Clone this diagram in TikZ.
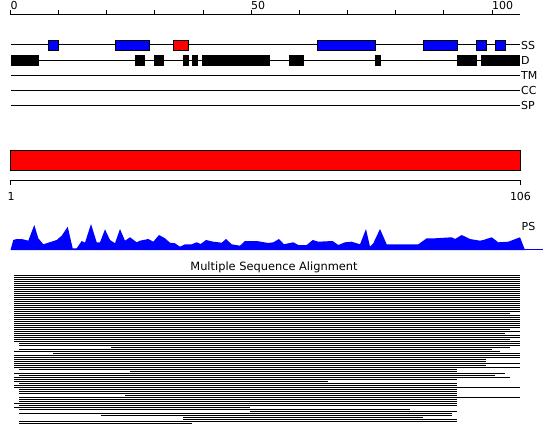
\documentclass[tikz,border=0pt]{standalone}
\usepackage{fontspec}
\setmainfont{DejaVu Sans}
\definecolor{ssblue}{RGB}{0,0,255}
\definecolor{ssred}{RGB}{255,0,0}

\begin{document}
\begin{tikzpicture}[
    x=1pt, y=-1pt,
    font=\fontsize{11}{13}\selectfont,
    % Track styles: one line per feature, boxes sit on it.
    track/.style={draw=black, line width=1pt},
    helix/.style={draw=black, line width=1pt, fill=ssblue},
    strand/.style={draw=black, line width=1pt, fill=ssred},
    disorder/.style={fill=black},
    tracklabel/.style={anchor=base west, inner sep=0pt},
    seqline/.style={draw=black, line width=1pt}
]
    \useasboundingbox (0,0) rectangle (550,445);

    % Residue ruler, 10 residues per tick
    \draw[track] (10.5,14.7) -- (520,14.7);
    \foreach \k in {0,...,10} {
        \draw[track] (10.5+48.15*\k,14.7) -- ++(0,-4.5);
    }
    \node[tracklabel] (tick0) at (10.5,9.5) {0};
    \node[tracklabel] (tick50) at (251,9.5) {50};
    \node[tracklabel] (tick100) at (492,9.5) {100};

    % Feature tracks
    \foreach \y/\name/\txt in {44.5/ss/SS, 60.3/d/D, 75.3/tm/TM, 90.3/cc/CC, 105.3/sp/SP} {
        \draw[track] (10.5,\y) -- (520,\y);
        \node[tracklabel] (\name label) at (521,\y+4.5) {\txt};
    }

    % Secondary structure
    \foreach \a/\b in {48.3/58.7, 115.3/149.7, 317.3/375.7, 423.3/457.7, 476.3/486.7, 495.3/505.7} {
        \draw[helix] (\a,40) rectangle (\b,50.3);
    }
    \draw[strand] (173.3,40) rectangle (188.7,50.3);

    % Disorder
    \foreach \a/\b in {10.5/39, 135/144.7, 154/164, 183/189, 192/198, 202/269.7,
                       289/304, 375/381, 457/476.7, 481/519.7} {
        \fill[disorder] (\a,55) rectangle (\b,65.7);
    }

    % Domain bar and its ruler
    \draw[strand] (10.7,150) rectangle (520.7,170.7);
    \draw[track] (10.7,185) -- (10.7,180.7) -- (520.7,180.7) -- (520.7,185);
    \node[anchor=base, inner sep=0pt] (first) at (11,200) {1};
    \node[anchor=base, inner sep=0pt] (last) at (520.5,200) {106};

    % Profile score
    \fill[ssblue] (10.5,250) -- (13.3,240) -- (16.7,239) -- (21.7,239) -- (28.3,240.7)
        -- (34.3,225) -- (38.3,238.3) -- (43.3,244.3) -- (48.3,242.7) -- (56.7,240)
        -- (61.7,235.7) -- (67.7,226.7) -- (72.7,248.3) -- (76.7,248.3) -- (81.7,241)
        -- (85,242.7) -- (91,224) -- (96.7,242.3) -- (100,242.3) -- (105,229.3)
        -- (110,240) -- (115,243.3) -- (120,229) -- (125,240.7) -- (130,237.3)
        -- (136.7,242.3) -- (140,240.7) -- (148.3,239) -- (153.3,241.7) -- (159,235)
        -- (165,238.3) -- (170,242.7) -- (175,243.3) -- (180,246.7) -- (185,244.3)
        -- (191.7,244.3) -- (196.7,242.3) -- (200.7,244) -- (206,240) -- (213.3,241.7)
        -- (221.7,242.7) -- (226,239) -- (231.7,244.3) -- (240,245.7) -- (245,241)
        -- (256.7,241) -- (268.3,243) -- (273.3,242.3) -- (279,239) -- (284,244.3)
        -- (288.3,243.3) -- (293.3,242.3) -- (298.3,245) -- (306.7,245) -- (312.7,240)
        -- (318.3,241.7) -- (332.7,241) -- (338.3,245) -- (345,242.3) -- (351.7,241.7)
        -- (360,244.3) -- (366,229) -- (370,246.7) -- (373.3,243.3) -- (380,229)
        -- (386.7,244.3) -- (418.3,244.3) -- (426.7,238.3) -- (435,238.3) -- (451.7,237.3)
        -- (455,239) -- (461.7,235) -- (470,239) -- (480,240.7) -- (483.3,240)
        -- (491.7,237.3) -- (498.3,242.3) -- (508.3,241.7) -- (520,237.3) -- (525,250)
        -- cycle;
    \draw[ssblue, line width=1pt] (525,249.5) -- (543,249.5);
    \node[tracklabel] (pslabel) at (521.5,230) {PS};

    % Alignment
    \node[anchor=base, inner sep=0pt, font=\fontsize{11.4}{13}\selectfont] (msatitle)
        at (274,270) {Multiple Sequence Alignment};
    \foreach \s/\e [count=\i from 0] in {
        14/520, 14/520, 14/520, 14/520, 14/520, 14/520, 14/520, 14/520, 14/520, 14/520,
        14/520, 14/520, 14/520, 14/520, 14/520, 14/520, 14/520, 14/520, 14/520, 14/510,
        14/520, 14/520, 14/520, 14/520, 14/520, 14/520, 14/520, 14/510, 14/520, 14/505,
        14/520, 14/520, 14/510, 14/520, 19/520, 19/520, 111/510, 19/492, 14/500, 53/520,
        14/520, 14/520, 14/486, 14/486, 14/520, 14/486, 14/520, 19/457, 130/457, 14/505,
        19/495, 14/510, 14/457, 14/328, 19/457, 14/457, 14/520, 19/457, 19/457, 19/457,
        125/457, 19/520, 19/457, 19/457, 14/457, 19/457, 14/250, 19/410, 250/457, 19/452,
        101/452, 183/423, 183/457, 19/457, 19/192} {
        \draw[seqline] (\s,275+2*\i) -- (\e,275+2*\i);
    }
\end{tikzpicture}
\end{document}
